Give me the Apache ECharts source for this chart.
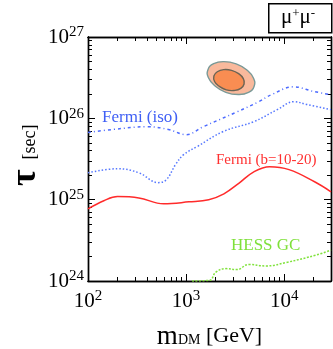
<!DOCTYPE html>
<html>
<head>
<meta charset="utf-8">
<script src="https://cdn.jsdelivr.net/npm/echarts@6/dist/echarts.min.js"></script>
<style>
  html, body { margin: 0; padding: 0; background: #fff; }
  #chart { width: 333px; height: 349px; }
</style>
</head>
<body>
<div id="chart"></div>
<script>
// Fermi (iso), dash-dot curve
const isoMass = [100, 180, 400, 660, 1000, 1500, 3300, 5500, 7400, 12500, 20000, 30000];
const isoTau = [6.7e25, 7.3e25, 7.9e25, 7.3e25, 6.3e25, 7.9e25, 1.2e26, 1.6e26, 1.95e26, 2.44e26, 2.14e26, 1.95e26];
// Fermi (iso), dotted curve
const isoMass2 = [100, 200, 330, 520, 630, 780, 950, 1300, 2400, 4900, 8500, 12600, 17000, 30000];
const isoTau2 = [2.14e25, 2.4e25, 2.14e25, 1.62e25, 1.76e25, 2.7e25, 3.6e25, 4.5e25, 6.9e25, 9.1e25, 1.28e26, 1.6e26, 1.48e26, 1.28e26];
// Fermi (b=10-20)
const midMass = [100, 145, 200, 330, 590, 1070, 1700, 2430, 3470, 4900, 7100, 11200, 20400, 30000];
const midTau = [7.7e24, 9.7e24, 1.09e25, 1.05e25, 8.9e24, 9.4e24, 1.0e25, 1.18e25, 1.6e25, 2.2e25, 2.54e25, 2.34e25, 1.66e25, 1.25e25];
// HESS GC
const hessMass = [1150, 1750, 2000, 2550, 3300, 4350, 6550, 10500, 21400, 30000];
const hessTau = [1.0e24, 1.02e24, 1.28e24, 1.42e24, 1.38e24, 1.6e24, 1.53e24, 1.69e24, 2.09e24, 2.4e24];
// best-fit regions (outer / inner contour)
const outerMass = [4930, 4330, 3390, 2540, 1970, 1690, 1670, 1910, 2430, 3240, 4170, 4870];
const outerTau = [2.47e26, 2.08e26, 1.96e26, 2.09e26, 2.50e26, 3.15e26, 3.97e26, 4.69e26, 4.98e26, 4.67e26, 3.93e26, 3.11e26];
const innerMass = [3900, 3610, 3090, 2570, 2180, 1950, 1920, 2080, 2420, 2910, 3430, 3830];
const innerTau = [2.64e26, 2.33e26, 2.20e26, 2.24e26, 2.47e26, 2.84e26, 3.31e26, 3.74e26, 3.97e26, 3.89e26, 3.54e26, 3.08e26];

const xMajor = [100, 1000, 10000];
const xMinor = [200, 300, 400, 500, 600, 700, 800, 900, 2000, 3000, 4000, 5000, 6000, 7000, 8000, 9000, 20000, 30000];
const yMajor = [1e24, 1e25, 1e26, 0.99999e27];
const yMinor = [];
[1e24, 1e25, 1e26].forEach(d => { for (let k = 2; k <= 9; k++) yMinor.push(k * d); });

const serif = 'Liberation Serif, DejaVu Serif, serif';
const zip = (a, b) => a.map((v, i) => [v, b[i]]);

const chart = echarts.init(document.getElementById('chart'));

function powLabel(v) {
  return '{b|10}{e|' + Math.round(Math.log10(v)) + '}';
}
const powRich = {
  b: { fontFamily: serif, fontSize: 21, color: '#000' },
  e: { fontFamily: serif, fontSize: 15, color: '#000', verticalAlign: 'top', padding: [0, 0, 9, 0] }
};

function xAx(pos, ticks, len, labels) {
  return {
    type: 'log', logBase: 10, min: 100, max: 30000, position: pos,
    axisLine: { show: true, onZero: false, lineStyle: { color: '#000', width: 1.4 } },
    axisTick: { show: true, inside: true, length: len, customValues: ticks, lineStyle: { color: '#000' } },
    axisLabel: labels ? { show: true, customValues: xMajor, formatter: powLabel, rich: powRich, margin: 8,
      showMinLabel: true, showMaxLabel: true, hideOverlap: false } : { show: false },
    splitLine: { show: false }, minorTick: { show: false }
  };
}
function yAx(pos, ticks, len, labels) {
  return {
    type: 'log', logBase: 10, min: 1e24, max: 1e27, position: pos,
    axisLine: { show: true, onZero: false, lineStyle: { color: '#000', width: 1.4 } },
    axisTick: { show: true, inside: true, length: len, customValues: ticks, lineStyle: { color: '#000' } },
    axisLabel: labels ? { show: true, customValues: yMajor, formatter: powLabel, rich: powRich, margin: 4,
      showMinLabel: true, showMaxLabel: true, hideOverlap: false } : { show: false },
    splitLine: { show: false }, minorTick: { show: false }
  };
}

function contour(mass, tau, fill, stroke) {
  const pts = zip(mass, tau);
  return {
    type: 'custom', z: 3, silent: true,
    data: [pts[0]],
    renderItem: function (params, api) {
      return {
        type: 'polygon',
        shape: { points: pts.map(p => api.coord(p)), smooth: 0.5 },
        style: { fill: fill, stroke: stroke, lineWidth: 1.4 }
      };
    }
  };
}

function curve(mass, tau, color, dash) {
  return {
    type: 'line', data: zip(mass, tau), smooth: 0.4, symbol: 'none', clip: true,
    lineStyle: { color: color, width: 1.5, type: dash }
  };
}

const option = {
  animation: false,
  grid: { left: 88, right: 2, top: 37, bottom: 68, outerBoundsMode: 'none', containLabel: false },
  xAxis: [
    Object.assign(xAx('bottom', xMajor, 7, true), {
      name: '{m|m}{d|DM}{g| [GeV]}', nameLocation: 'middle', nameGap: 42,
      nameTextStyle: { rich: {
        m: { fontFamily: serif, fontSize: 27, color: '#000' },
        d: { fontFamily: serif, fontSize: 14, color: '#000', verticalAlign: 'bottom', padding: [0, 0, 3, 0] },
        g: { fontFamily: serif, fontSize: 22, color: '#000' }
      } }
    }),
    xAx('bottom', xMinor, 4, false),
    xAx('top', xMajor, 7, false),
    xAx('top', xMinor, 4, false)
  ],
  yAxis: [
    yAx('left', yMajor, 7, true),
    yAx('left', yMinor, 4, false),
    yAx('right', yMajor, 7, false),
    yAx('right', yMinor, 4, false)
  ],
  series: [
    curve(isoMass, isoTau, '#4d6bff', [3, 3, 1, 3]),
    curve(isoMass2, isoTau2, '#5577ff', [1.5, 2]),
    curve(midMass, midTau, '#ff2b2b', 'solid'),
    curve(hessMass, hessTau, '#80e23c', [2, 1.5]),
    contour(outerMass, outerTau, '#f9b99c', '#7a9a98'),
    contour(innerMass, innerTau, '#f98d52', '#6b6455')
  ],
  graphic: [
    { type: 'text', x: 26, y: 186, rotation: Math.PI / 2, z: 5,
      style: { text: '{t|τ}{s|[sec]}', align: 'left', verticalAlign: 'middle', rich: {
        t: { fontFamily: serif, fontSize: 36, fontWeight: 'bold', fill: '#000', verticalAlign: 'bottom' },
        s: { fontFamily: serif, fontSize: 18, fill: '#000', verticalAlign: 'bottom', padding: [0, 0, 5, 10] }
      } } },
    { type: 'rect', left: 268, top: 3, shape: { width: 63, height: 29 },
      style: { fill: '#fff', stroke: '#000', lineWidth: 1.5 }, z: 10 },
    { type: 'text', left: 281, top: 7, z: 11,
      style: { text: '{m|μ}{s|+}{m|μ}{s|-}', rich: {
        m: { fontFamily: serif, fontSize: 21, fill: '#000' },
        s: { fontFamily: serif, fontSize: 13, fill: '#000', verticalAlign: 'top' }
      } } },
    { type: 'text', left: 102, top: 109, z: 5,
      style: { text: 'Fermi (iso)', font: '17px ' + serif, fill: '#3f5ff5' } },
    { type: 'text', left: 216, top: 153, z: 5,
      style: { text: 'Fermi (b=10-20)', font: '15px ' + serif, fill: '#ff3030' } },
    { type: 'text', left: 231, top: 237, z: 5,
      style: { text: 'HESS GC', font: '17px ' + serif, fill: '#7fe03a' } }
  ]
};

chart.setOption(option);
</script>
</body>
</html>
